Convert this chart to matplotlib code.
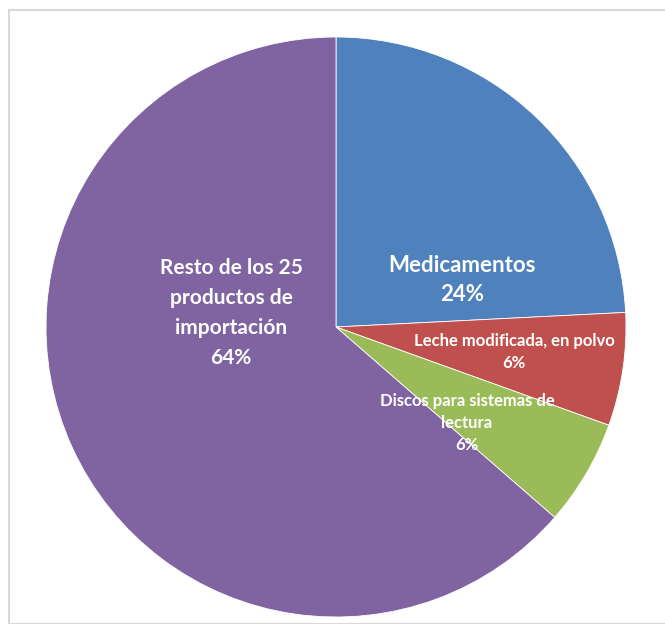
import matplotlib
matplotlib.use("Agg")
import matplotlib.pyplot as plt
from matplotlib.patches import Rectangle

# slice data (clockwise from top)
labels = ["Medicamentos", "Leche modificada, en polvo", "Discos para sistemas de\nlectura", "Resto de los 25\nproductos de\nimportación"]
values = [24.2, 6.3, 5.9, 63.6]
pct_text = ["24%", "6%", "6%", "64%"]
colors = ["#4F81BD", "#C0504D", "#9BBB59", "#8064A2"]

W, H = 665, 624
fig = plt.figure(figsize=(W / 100, H / 100), dpi=100)
ax = fig.add_axes([0, 0, 1, 1])

# chart area border
fig.patches.append(Rectangle((9 / W, 0), 1, 1 - 10 / H, transform=fig.transFigure,
                             fill=False, edgecolor="#D9D9D9", linewidth=1.5))

cx, cy, r = 336, H - 327, 290
ax.pie(values, colors=colors, startangle=90, counterclock=False,
       center=(cx, cy), radius=r, frame=True,
       wedgeprops=dict(edgecolor="white", linewidth=0.6))
ax.set_xlim(0, W)
ax.set_ylim(0, H)
ax.set_aspect("equal")
ax.axis("off")

font = ["Lato", "DejaVu Sans"]
# label placement (pixel coords of text centre), font size, line spacing
spots = [(462, 280, 16, 1.5), (514, 352, 12, 1.45), (467, 423, 12, 1.45), (231, 313, 15, 1.62)]
for lab, pct, (x, y, fs, ls) in zip(labels, pct_text, spots):
    ax.text(x, H - y, lab + "\n" + pct, ha="center", va="center", color="white",
            fontsize=fs, fontweight="bold", family=font, linespacing=ls)

fig.savefig("out.png", dpi=100)
